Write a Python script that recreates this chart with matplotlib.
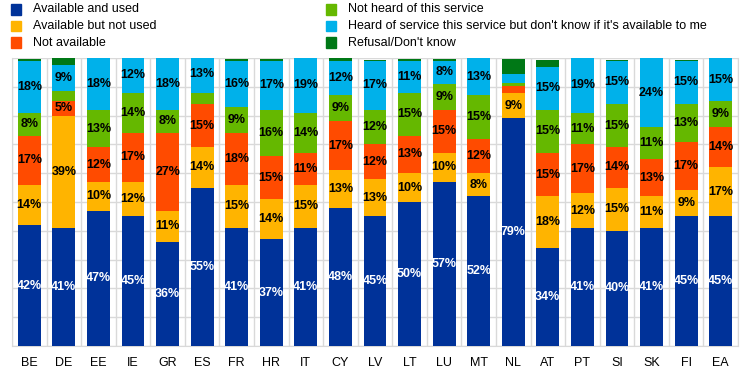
import numpy as np
import matplotlib
matplotlib.use("Agg")
import matplotlib.pyplot as plt
from matplotlib.patches import Rectangle

plt.rcParams['font.family'] = ['Liberation Sans', 'DejaVu Sans']

# Datos (porcentajes)
paises = ["BE", "DE", "EE", "IE", "GR", "ES", "FR", "HR", "IT", "CY", "LV",
          "LT", "LU", "MT", "NL", "AT", "PT", "SI", "SK", "FI", "EA"]

disponible_usado = [42, 41, 47, 45, 36, 55, 41, 37, 41, 48, 45, 50, 57, 52, 79, 34, 41, 40, 41, 45, 45]
disponible_no_usado = [14, 39, 10, 12, 11, 14, 15, 14, 15, 13, 13, 10, 10, 8, 9, 18, 12, 15, 11, 9, 17]
no_disponible = [17, 5, 12, 17, 27, 15, 18, 15, 11, 17, 12, 13, 15, 12, 2.4, 15, 17, 14, 13, 17, 14]
no_oido = [8, 3.5, 13, 14, 8, 4, 9, 16, 14, 9, 12, 15, 9, 15, 1.0, 15, 11, 15, 11, 13, 9]
oido_no_sabe = [18, 9, 18, 12, 18, 13, 16, 17, 19, 12, 17, 11, 8, 13, 3.1, 15, 19, 15, 24, 15, 15]
rechazo = [0.8, 2.4, 0.2, 0.3, 0.3, 0.3, 0.5, 0.6, 0.6, 1.7, 0.4, 0.5, 0.6, 0.2, 5.2, 2.4, 0.2, 0.4, 0.4, 0.4, 1.0]

series = [disponible_usado, disponible_no_usado, no_disponible, no_oido, oido_no_sabe, rechazo]
nombres = ["Available and used", "Available but not used", "Not available",
           "Not heard of this service",
           "Heard of service this service but don't know if it's available to me",
           "Refusal/Don't know"]
colores = ["#003299", "#FFB400", "#FF4B00", "#65B800", "#00B1EA", "#007816"]

W, H = 744, 373
fig = plt.figure(figsize=(W / 100, H / 100), dpi=100)
ax = fig.add_axes([12 / W, 1 - 346 / H, 726 / W, 288 / H])

x = np.arange(len(paises))
base = np.zeros(len(paises))
for k, (vals, col) in enumerate(zip(series, colores)):
    vals = np.array(vals, dtype=float)
    ax.bar(x, vals, bottom=base, width=0.66, color=col, zorder=3)
    # la serie "Refusal" no lleva etiquetas
    if k < 5:
        for xi, b, v in zip(x, base, vals):
            if v >= 5:
                ax.text(xi, b + v / 2, f"{int(round(v))}%", ha='center', va='center',
                        fontsize=9, fontweight='bold',
                        color='white' if k == 0 else 'black', zorder=4)
    base += vals

ax.set_xlim(-0.5, len(paises) - 0.5)
ax.set_ylim(0, 100)
ax.set_yticks(np.arange(0, 101, 10))
ax.set_yticklabels([])
ax.set_xticks(x)
ax.set_xticklabels(paises, fontsize=9)
ax.set_xticks(np.arange(-0.5, len(paises)), minor=True)
ax.tick_params(axis='both', which='both', length=0)
ax.tick_params(axis='x', pad=8)
ax.grid(axis='y', which='major', color='#d9d9d9', linewidth=1, zorder=0)
ax.grid(axis='x', which='minor', color='#d9d9d9', linewidth=1, zorder=0)
for lado, sp in ax.spines.items():
    sp.set_color('#d9d9d9')
ax.spines['top'].set_visible(False)

# Leyenda manual en dos columnas
for i, (nom, col) in enumerate(zip(nombres, colores)):
    cx = 11 if i < 3 else 326
    cy = 9.5 + (i % 3) * 16.5
    fig.patches.append(Rectangle((cx / W, 1 - (cy + 5) / H), 10 / W, 10 / H,
                                 transform=fig.transFigure, color=col))
    fig.text((cx + 22) / W, 1 - cy / H, nom, ha='left', va='center', fontsize=9)

fig.savefig("out.png", dpi=100)
